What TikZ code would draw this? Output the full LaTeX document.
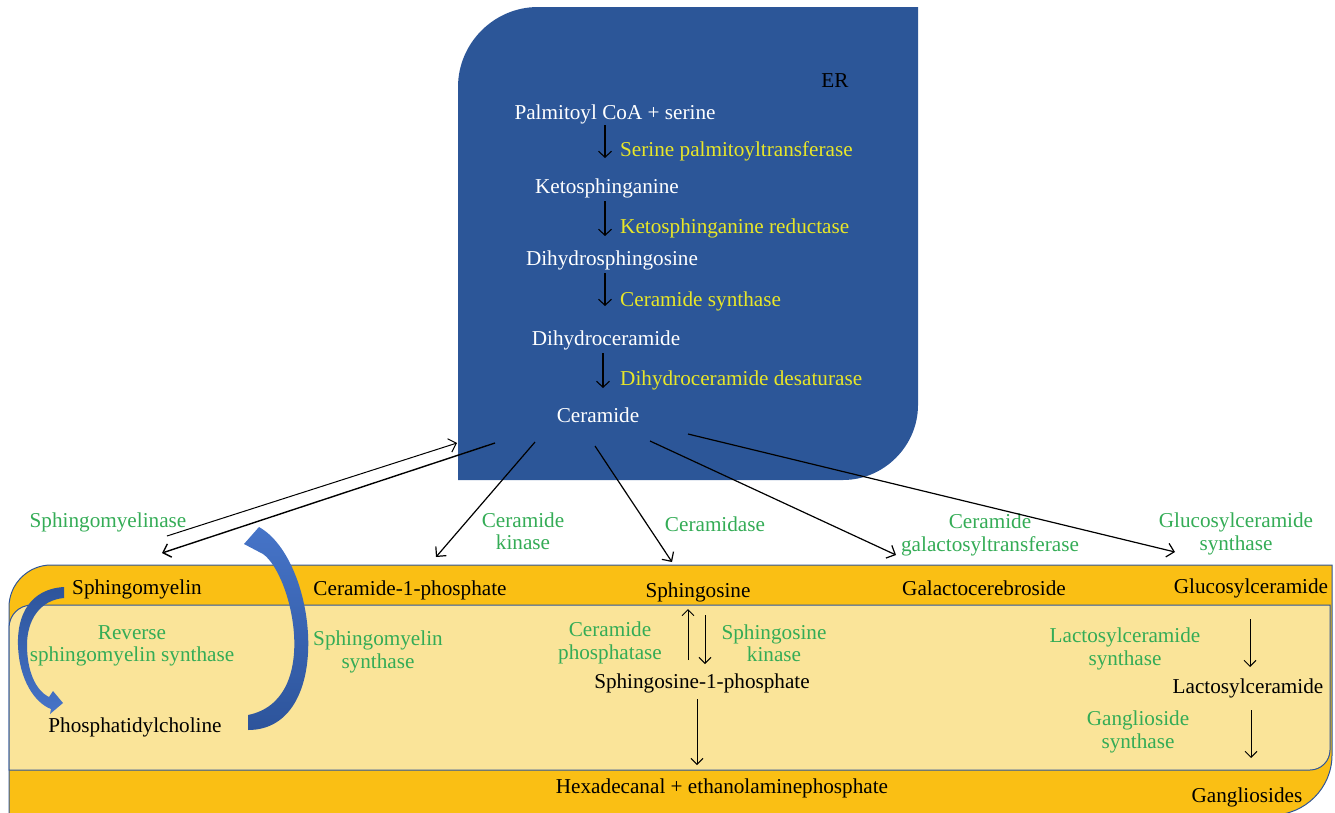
\documentclass[tikz,border=0pt]{standalone}
\usepackage{fontspec}
\setmainfont{Liberation Serif}
\usetikzlibrary{arrows.meta}
\definecolor{erblue}{RGB}{44,86,152}
\definecolor{enz}{RGB}{232,230,40}
\definecolor{grn}{RGB}{52,172,86}
\definecolor{orng}{RGB}{250,191,20}
\definecolor{lyel}{RGB}{250,228,153}
\definecolor{edgeblue}{RGB}{47,85,151}
\definecolor{cdark}{RGB}{45,84,155}
\definecolor{clight}{RGB}{70,116,200}
\begin{document}
\begin{tikzpicture}[x=1pt,y=-1pt,
  every node/.style={font=\fontsize{21.2}{22.5}\selectfont, inner sep=0pt, align=center},
  one/.style={text height=14.5pt, text depth=0pt},
  cmp/.style={one, text=white},
  ezy/.style={one, text=enz, anchor=west},
  gz/.style={text=grn},
  bk/.style={one, text=black},
  rx/.style={-{Straight Barb[length=6pt,width=13pt]}, line width=1.1pt, black},
  ex/.style={-{Straight Barb[length=7pt,width=14pt]}, line width=1.2pt, black},
  px/.style={-{Straight Barb[length=6pt,width=12pt]}, line width=1pt, black}]
\useasboundingbox (0,0) rectangle (1335,812);
% ER compartment
\fill[erblue] (458,480) -- (458,87) .. controls (458,43) and (494,7) .. (538,7)
  -- (918,7) -- (918,405) .. controls (918,446) and (884,480) .. (843,480) -- cycle;
% bottom panel
\filldraw[fill=orng, draw=edgeblue, line width=1pt] (9,820) -- (9,607) .. controls (9,584) and (28,565) .. (51,565)
  -- (1332,565) -- (1332,755) .. controls (1332,788) and (1305,815) .. (1272,815) -- (9,815) -- cycle;
\filldraw[fill=lyel, draw=edgeblue, line width=1pt] (9,770) -- (9,628) .. controls (9,615) and (19,605) .. (32,605)
  -- (1330,605) -- (1330,750) .. controls (1330,761) and (1321,770) .. (1310,770) -- cycle;
% ER texts
\node[bk] (er) at (835,80) {ER};
\node[cmp] (pal) at (615,112) {Palmitoyl CoA + serine};
\node[cmp] (ket) at (607,186) {Ketosphinganine};
\node[cmp] (dhs) at (612,258) {Dihydrosphingosine};
\node[cmp] (dhc) at (606,338) {Dihydroceramide};
\node[cmp] (cer) at (598,415) {Ceramide};
\node[ezy] (spt) at (620,149) {Serine palmitoyltransferase};
\node[ezy] (ksr) at (620,226) {Ketosphinganine reductase};
\node[ezy] (cs) at (620,299) {Ceramide synthase};
\node[ezy] (dcd) at (620,378) {Dihydroceramide desaturase};
\coordinate (a1s) at (605,125); \coordinate (a1e) at (605,158);
\coordinate (a2s) at (605,201); \coordinate (a2e) at (605,236);
\coordinate (a3s) at (605,273); \coordinate (a3e) at (605,306);
\coordinate (a4s) at (603,353); \coordinate (a4e) at (603,388);
\draw[rx] (a1s) -- (a1e);
\draw[rx] (a2s) -- (a2e);
\draw[rx] (a3s) -- (a3e);
\draw[rx] (a4s) -- (a4e);
% labels above panel
\node[gz, one] (smase) at (108,520) {Sphingomyelinase};
\node[gz] (ck) at (523,531) {Ceramide\\kinase};
\node[gz, one] (cdase) at (715,524) {Ceramidase};
\node[gz] (cgt) at (990,535) {Ceramide\\galactosyltransferase};
\node[gz] (gcs) at (1236,534) {Glucosylceramide\\synthase};
% ER to panel connectors
\coordinate (r1s) at (167,536); \coordinate (r1e) at (457,443);
\coordinate (r2s) at (495,443); \coordinate (r2e) at (162,553);
\coordinate (r3s) at (535,442); \coordinate (r3e) at (436,557);
\coordinate (r4s) at (595,446); \coordinate (r4e) at (672,562);
\coordinate (r5s) at (650,441); \coordinate (r5e) at (896,555);
\coordinate (r6s) at (688,434); \coordinate (r6e) at (1175,552);
\draw[ex, line width=1pt] (r1s) -- (r1e);
\draw[ex, line width=1.4pt] (r2s) -- (r2e);
\draw[ex] (r3s) -- (r3e);
\draw[ex] (r4s) -- (r4e);
\draw[ex] (r5s) -- (r5e);
\draw[ex] (r6s) -- (r6e);
% panel texts
\node[bk] (sm) at (137,587) {Sphingomyelin};
\node[bk] (c1p) at (410,588) {Ceramide-1-phosphate};
\node[bk] (sph) at (698,590) {Sphingosine};
\node[bk] (gal) at (984,588) {Galactocerebroside};
\node[bk] (glc) at (1251,586) {Glucosylceramide};
\node[gz] (rsms) at (132,646) {Reverse\\sphingomyelin synthase};
\node[gz] (sms) at (378,652) {Sphingomyelin\\synthase};
\node[bk] (pc) at (135,725) {Phosphatidylcholine};
\node[gz] (cph) at (610,643) {Ceramide\\phosphatase};
\node[gz] (sk) at (774,643) {Sphingosine\\kinase};
\node[bk] (s1p) at (702,681) {Sphingosine-1-phosphate};
\node[bk] (hex) at (722,786) {Hexadecanal + ethanolaminephosphate};
\node[gz] (lcs) at (1125,649) {Lactosylceramide\\synthase};
\node[bk] (lac) at (1248,686) {Lactosylceramide};
\node[gz] (gs) at (1138,732) {Ganglioside\\synthase};
\node[bk] (gang) at (1247,795) {Gangliosides};
% panel arrows
\coordinate (p1s) at (688,660); \coordinate (p1e) at (688,609);
\coordinate (p2s) at (705,615); \coordinate (p2e) at (705,664);
\coordinate (p3s) at (697,699); \coordinate (p3e) at (697,765);
\coordinate (p4s) at (1250,619); \coordinate (p4e) at (1250,667);
\coordinate (p5s) at (1251,710); \coordinate (p5e) at (1251,758);
\draw[px] (p1s) -- (p1e);
\draw[px] (p2s) -- (p2e);
\draw[px] (p3s) -- (p3e);
\draw[px] (p4s) -- (p4e);
\draw[px] (p5s) -- (p5e);
% curved block arrows (drawn as shapes)
\shade[top color=cdark, bottom color=clight]
  (64,587) .. controls (30,589) and (17,615) .. (18,645)
  .. controls (19,680) and (35,703) .. (51,709)
  -- (50,714) -- (63,703) -- (53,691) -- (49,697)
  .. controls (35,690) and (27,670) .. (27,645)
  .. controls (27,620) and (40,600) .. (64,598) -- cycle;
\shade[top color=clight, bottom color=cdark]
  (248,730) .. controls (335,730) and (318,560) .. (259,527)
  -- (244,544) -- (263,554)
  .. controls (292,574) and (322,700) .. (248,715) -- cycle;
\end{tikzpicture}
\end{document}
